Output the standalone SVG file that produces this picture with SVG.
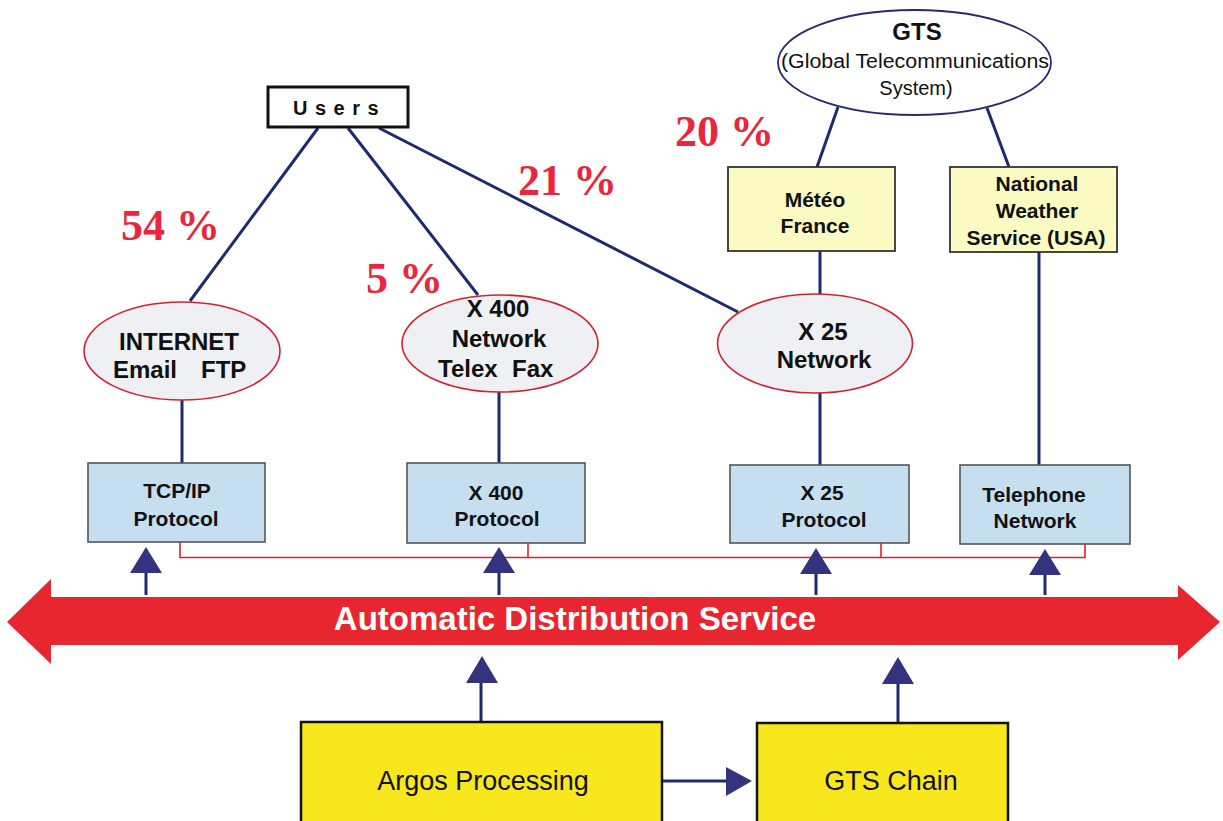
<svg xmlns="http://www.w3.org/2000/svg" width="1223" height="821" viewBox="0 0 1223 821">
<style>
.bg{fill:#ffffff}
.conn{stroke:#1f2a6e;stroke-width:3;fill:none}
.red{stroke:#e02030;stroke-width:1.6;fill:none}
.tri{fill:#34347e}
.stem{stroke:#1f2a6e;stroke-width:3}
.net{fill:#eef0f4;stroke:#d42030;stroke-width:1.6}
.proto{fill:#c6dff0;stroke:#555;stroke-width:1.6}
.met{fill:#fafac2;stroke:#333;stroke-width:1.8}
.proc{fill:#f7e71c;stroke:#111;stroke-width:2.5}
.b{font-family:"Liberation Sans",Arial,sans-serif;font-weight:bold;fill:#111}
.r{font-family:"Liberation Sans",Arial,sans-serif;fill:#111}
.pct{font-family:"Liberation Serif","Times New Roman",serif;font-weight:bold;font-size:44px;fill:#e8263c}
.c{text-anchor:middle}
</style>
<rect class="bg" x="0" y="0" width="1223" height="821"/>

<g id="connectors">
  <line class="conn" x1="318" y1="128" x2="190" y2="301"/>
  <line class="conn" x1="348" y1="128" x2="478" y2="295"/>
  <line class="conn" x1="379" y1="128" x2="738" y2="312"/>
  <line class="conn" x1="838" y1="107" x2="817" y2="167"/>
  <line class="conn" x1="987" y1="108" x2="1009" y2="167"/>
  <line class="conn" x1="820" y1="251" x2="820" y2="294"/>
  <line class="conn" x1="1039" y1="252" x2="1039" y2="465"/>
  <line class="conn" x1="182" y1="400" x2="182" y2="463"/>
  <line class="conn" x1="499" y1="392" x2="499" y2="463"/>
  <line class="conn" x1="820" y1="393" x2="820" y2="465"/>
  <polyline class="red" points="180,542 180,557.5 1085,557.5 1085,544"/>
  <line class="red" x1="528" y1="543" x2="528" y2="557.5"/>
  <line class="red" x1="881" y1="543" x2="881" y2="557.5"/>
  <line class="stem" x1="146" y1="572" x2="146" y2="595"/>
  <polygon class="tri" points="146,547 130,573 162,573"/>
  <line class="stem" x1="499" y1="572" x2="499" y2="595"/>
  <polygon class="tri" points="499,547 483,573 515,573"/>
  <line class="stem" x1="816" y1="572" x2="816" y2="595"/>
  <polygon class="tri" points="816,548 800,574 832,574"/>
  <line class="stem" x1="1045" y1="572" x2="1045" y2="595"/>
  <polygon class="tri" points="1045,549 1029,575 1061,575"/>
  <line class="stem" x1="481" y1="682" x2="481" y2="722"/>
  <polygon class="tri" points="482,656 466,683 498,683"/>
  <line class="stem" x1="898" y1="682" x2="898" y2="723"/>
  <polygon class="tri" points="898,657 882,684 914,684"/>
  <line class="stem" x1="663" y1="781" x2="728" y2="781"/>
  <polygon class="tri" points="752,781 726,767 726,796"/>
</g>

<g id="users">
  <rect x="268" y="87" width="140" height="40" fill="#fff" stroke="#111" stroke-width="3"/>
  <text class="b" x="293" y="115" font-size="20" letter-spacing="7.5">Users</text>
</g>

<g id="gts">
  <ellipse cx="914.5" cy="62.5" rx="136.5" ry="52.5" fill="#fff" stroke="#2a2a6a" stroke-width="1.8"/>
  <text class="b c" x="917" y="40" font-size="24">GTS</text>
  <text class="r c" x="915" y="68" font-size="20" textLength="268" lengthAdjust="spacingAndGlyphs">(Global Telecommunications</text>
  <text class="r c" x="916" y="95" font-size="20">System)</text>
</g>

<g id="meteo">
  <rect class="met" x="728" y="167" width="167" height="84"/>
  <text class="b c" x="815" y="207" font-size="21">Météo</text>
  <text class="b c" x="815" y="233" font-size="21">France</text>
</g>

<g id="nws">
  <rect class="met" x="950" y="167" width="167" height="85"/>
  <text class="b c" x="1037" y="191" font-size="21">National</text>
  <text class="b c" x="1037" y="218" font-size="21">Weather</text>
  <text class="b c" x="1036" y="245" font-size="21">Service (USA)</text>
</g>

<g id="internet">
  <ellipse class="net" cx="182" cy="351" rx="98" ry="49"/>
  <text class="b c" x="179" y="350" font-size="24">INTERNET</text>
  <text class="b" x="113" y="378" font-size="24">Email</text>
  <text class="b" x="201" y="378" font-size="24">FTP</text>
</g>

<g id="x400net">
  <ellipse class="net" cx="500" cy="343.5" rx="98" ry="48.5"/>
  <text class="b c" x="498" y="317" font-size="24">X 400</text>
  <text class="b c" x="499" y="347" font-size="24">Network</text>
  <text class="b" x="438" y="377" font-size="24">Telex</text>
  <text class="b" x="512" y="377" font-size="24">Fax</text>
</g>

<g id="x25net">
  <ellipse class="net" cx="815" cy="343.5" rx="97.5" ry="49.5"/>
  <text class="b c" x="823" y="340" font-size="24">X 25</text>
  <text class="b c" x="824" y="368" font-size="24">Network</text>
</g>

<g id="tcpip">
  <rect class="proto" x="88" y="463" width="177" height="79"/>
  <text class="b c" x="177" y="498" font-size="21">TCP/IP</text>
  <text class="b c" x="176" y="526" font-size="21">Protocol</text>
</g>

<g id="x400proto">
  <rect class="proto" x="407" y="463" width="178" height="80"/>
  <text class="b c" x="496" y="500" font-size="21">X 400</text>
  <text class="b c" x="497" y="526" font-size="21">Protocol</text>
</g>

<g id="x25proto">
  <rect class="proto" x="730" y="465" width="179" height="78"/>
  <text class="b c" x="822" y="500" font-size="21">X 25</text>
  <text class="b c" x="824" y="527" font-size="21">Protocol</text>
</g>

<g id="telephone">
  <rect class="proto" x="960" y="465" width="170" height="79"/>
  <text class="b c" x="1034" y="502" font-size="21">Telephone</text>
  <text class="b c" x="1035" y="528" font-size="21">Network</text>
</g>

<g id="ads">
  <polygon points="7,622 51,579 51,597 1178,597 1178,585 1220,622 1178,660 1178,645 51,645 51,664" fill="#e8262f"/>
  <text class="c" x="575" y="630" font-family="'Liberation Sans',Arial,sans-serif" font-weight="bold" font-size="33" fill="#ffffff">Automatic Distribution Service</text>
</g>

<g id="argos">
  <rect class="proc" x="301" y="722" width="361" height="110"/>
  <text class="r c" x="483" y="790" font-size="27">Argos Processing</text>
</g>

<g id="gtschain">
  <rect class="proc" x="757" y="723" width="251" height="110"/>
  <text class="r c" x="891" y="790" font-size="27">GTS Chain</text>
</g>

<g id="labels">
  <text class="pct" x="121" y="240">54 %</text>
  <text class="pct" x="366" y="293">5 %</text>
  <text class="pct" x="518" y="195">21 %</text>
  <text class="pct" x="675" y="146">20 %</text>
</g>
</svg>
